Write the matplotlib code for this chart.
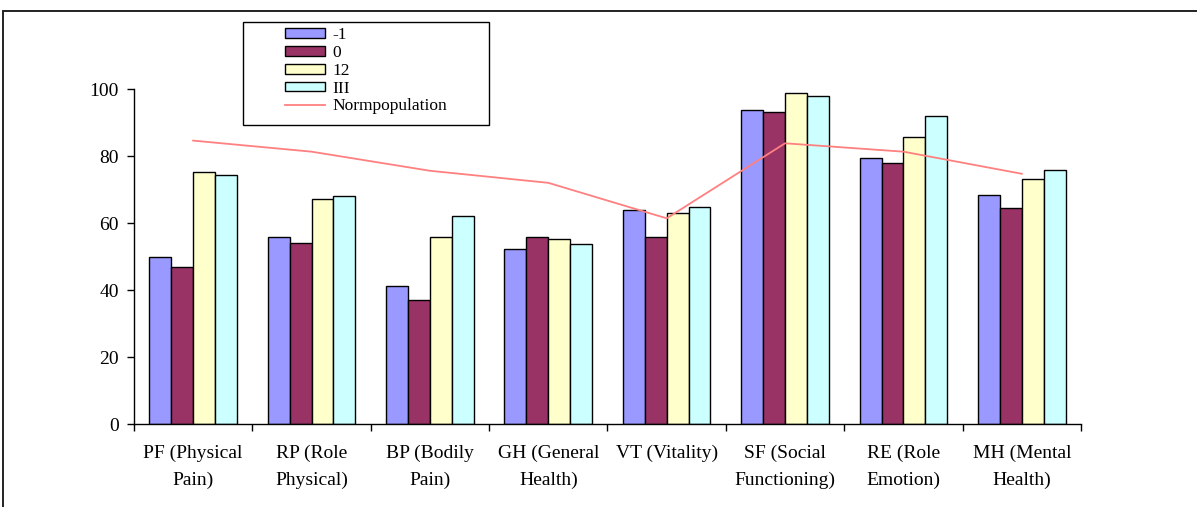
import numpy as np
from matplotlib import pyplot as plt
from matplotlib.patches import Patch, Rectangle
from matplotlib.lines import Line2D

categories = ["PF (Physical\nPain)", "RP (Role\nPhysical)", "BP (Bodily\nPain)",
              "GH (General\nHealth)", "VT (Vitality)", "SF (Social\nFunctioning)",
              "RE (Role\nEmotion)", "MH (Mental\nHealth)"]
series_names = ["-1", "0", "12", "III"]
vals_m1 = [50.0, 55.8, 41.3, 52.2, 64.0, 93.7, 79.3, 68.4]
vals_0 = [46.8, 54.0, 36.9, 55.8, 55.8, 93.2, 78.0, 64.5]
vals_12 = [75.1, 67.1, 55.8, 55.3, 63.1, 98.7, 85.6, 73.0]
vals_iii = [74.2, 68.1, 62.1, 53.6, 64.9, 97.8, 92.0, 75.7]
norm = [84.6, 81.3, 75.6, 72.0, 61.4, 83.8, 81.3, 74.7]

colors = ["#9999FF", "#993366", "#FFFFCC", "#CCFFFF"]
line_color = "#FF8080"

plt.rcParams["font.family"] = ["Liberation Serif", "DejaVu Serif"]

fig = plt.figure(figsize=(11.97, 5.07), dpi=100)
ax = fig.add_axes([0.1119, 0.1637, 0.7912, 0.6607])

x = np.arange(len(categories))
w = 0.185
for i, vals in enumerate([vals_m1, vals_0, vals_12, vals_iii]):
    ax.bar(x + (i - 1.5) * w, vals, width=w, color=colors[i],
           edgecolor="black", linewidth=1.0, zorder=2)
ax.plot(x, norm, color=line_color, linewidth=1.3, zorder=3)

ax.set_xlim(-0.5, len(categories) - 0.5)
ax.set_ylim(0, 100)
ax.set_yticks(range(0, 101, 20))
ax.set_xticks(x)
ax.set_xticklabels(categories, fontsize=14, linespacing=1.75)
ax.tick_params(axis="x", length=0, pad=15)
ax.set_xticks(np.arange(-0.5, len(categories), 1), minor=True)
ax.tick_params(axis="x", which="minor", length=5, direction="out", width=1)
ax.tick_params(axis="y", labelsize=14, length=5, width=1, pad=6)
for s in ["top", "right"]:
    ax.spines[s].set_visible(False)
for s in ["left", "bottom"]:
    ax.spines[s].set_linewidth(1.0)

# outer chart frame
fig.patches.append(Rectangle((3 / 1197, -0.1), 1.2, 1 - 11 / 507 + 0.1,
                             transform=fig.transFigure, fill=False,
                             edgecolor="#222222", linewidth=1.4))

# legend box
fig.patches.append(Rectangle((243 / 1197, 1 - 125 / 507), 246 / 1197, 103 / 507,
                             transform=fig.transFigure, facecolor="white",
                             edgecolor="black", linewidth=1.0, zorder=4))
handles = [Patch(facecolor=c, edgecolor="black", linewidth=1.0) for c in colors]
handles.append(Line2D([0], [0], color=line_color, linewidth=1.3))
fig.legend(handles, series_names + ["Normpopulation"], loc="upper left",
           bbox_to_anchor=(282 / 1197, 1 - 24 / 507), frameon=False,
           fontsize=12.5, handlelength=2.3, handleheight=0.5,
           labelspacing=0.1, handletextpad=0.4, borderpad=0.2,
           borderaxespad=0)

fig.savefig("out.png", dpi=100)
